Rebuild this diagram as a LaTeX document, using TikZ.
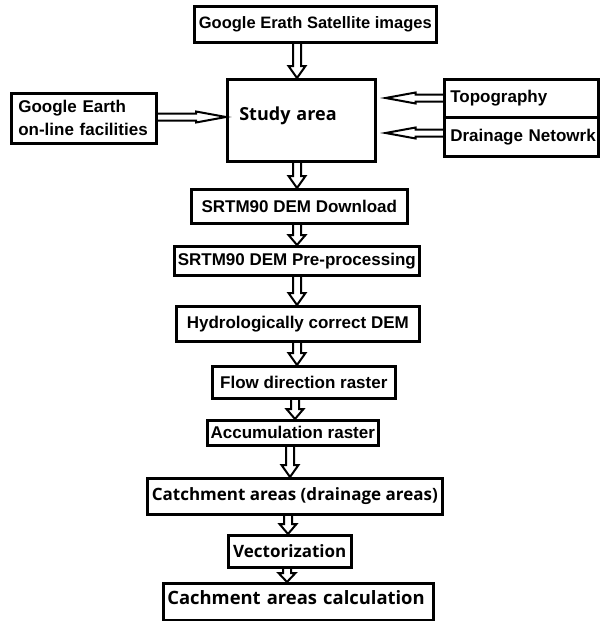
\documentclass[tikz,border=0pt]{standalone}
\usepackage{fontspec}
\newfontfamily\lsans{Liberation Sans}
\newfontfamily\osans{Open Sans}
\usetikzlibrary{calc}
\newcommand\varr[4][12]{%
  \draw[harrow] let \p1=(#2.south), \p2=(#3.north), \p3=(#4,0) in
   ({\x3-4pt},\y1) -- ({\x3-4pt},{\y2+#1pt}) -- ({\x3-8.5pt},{\y2+#1pt}) -- (\x3,\y2)
   -- ({\x3+8.5pt},{\y2+#1pt}) -- ({\x3+4pt},{\y2+#1pt}) -- ({\x3+4pt},\y1);}
\newcommand\harr[5]{%
  \draw[harrow] let \p1=(#1), \p2=(#2), \p3=(0,#3) in
   (\x1,{\y3+3.5pt}) -- ({\x2-#4pt},{\y3+3.5pt}) -- ({\x2-#4pt},{\y3+#5pt}) -- (\x2,\y3)
   -- ({\x2-#4pt},{\y3-#5pt}) -- ({\x2-#4pt},{\y3-3.5pt}) -- (\x1,{\y3-3.5pt});}
\begin{document}
\begin{tikzpicture}[x=1pt,y=-1pt,
  box/.style={draw, line width=2.6pt, inner sep=0pt, anchor=north west},
  lt/.style={font=\lsans\bfseries\fontsize{17}{23}\selectfont},
  ot/.style={font=\osans\bfseries\fontsize{17}{22}\selectfont},
  otl/.style={font=\osans\bfseries\fontsize{18.4}{22}\selectfont},
  harrow/.style={draw, line width=2pt, line join=miter}]
\useasboundingbox (0,0) rectangle (600,621);

\node[box, lt, font=\lsans\bfseries\fontsize{16.5}{20}\selectfont, minimum width=242pt, minimum height=36pt] (sat) at (193,5) {Google Erath Satellite images};
\node[box, otl, font=\osans\bfseries\fontsize{18}{22}\selectfont, minimum width=148pt, minimum height=82pt, inner xsep=12pt, text width=124pt, align=left, text height=13pt, text depth=13pt] (study) at (226,78) {Study area};
\node[box, lt, minimum width=145pt, minimum height=50pt, inner xsep=7pt, text width=131pt, align=left] (ge) at (10,92) {Google Earth\\on-line facilities};
\node[box, lt, minimum width=154pt, minimum height=38pt, inner xsep=6pt, text width=142pt, align=left] (topo) at (443,78) {\mbox{Topography}};
\node[box, lt, minimum width=154pt, minimum height=39pt, inner xsep=6pt, text width=142pt, align=left] (drain) at (443,116) {\mbox{Drainage Netowrk}};
\node[box, lt, minimum width=216pt, minimum height=34pt] (dl) at (190,188) {SRTM90 DEM Download};
\node[box, lt, minimum width=245pt, minimum height=29pt] (pre) at (173,245) {SRTM90 DEM Pre-processing};
\node[box, lt, minimum width=243pt, minimum height=35pt] (hyd) at (175,305) {Hydrologically correct DEM};
\node[box, lt, minimum width=183pt, minimum height=32pt] (flow) at (211,365) {Flow direction raster};
\node[box, lt, minimum width=171pt, minimum height=25pt] (acc) at (206,419) {Accumulation raster};
\node[box, ot, minimum width=295pt, minimum height=36pt] (catch) at (146,477) {Catchment areas (drainage areas)};
\node[box, ot, minimum width=123pt, minimum height=32pt] (vec) at (227,534) {Vectorization};
\node[box, otl, minimum width=270pt, minimum height=37pt, inner xsep=4pt, text width=262pt, align=left, text height=13pt, text depth=7pt] (calc) at (162,582) {\mbox{Cachment areas calculation}};

\varr{sat}{study}{297}
\varr{study}{dl}{297}
\varr[10]{dl}{pre}{297}
\varr{pre}{hyd}{297}
\varr{hyd}{flow}{297}
\varr[10]{flow}{acc}{295}
\varr{acc}{catch}{290}
\varr[10]{catch}{vec}{288}
\varr[9]{vec}{calc}{287}

\harr{ge.east}{study.west}{117}{30}{5.5}
\harr{topo.west}{$(study.east)+(9,0)$}{98}{-30}{5.5}
\harr{drain.west}{$(study.east)+(9,0)$}{133}{-30}{5.5}
\end{tikzpicture}
\end{document}
